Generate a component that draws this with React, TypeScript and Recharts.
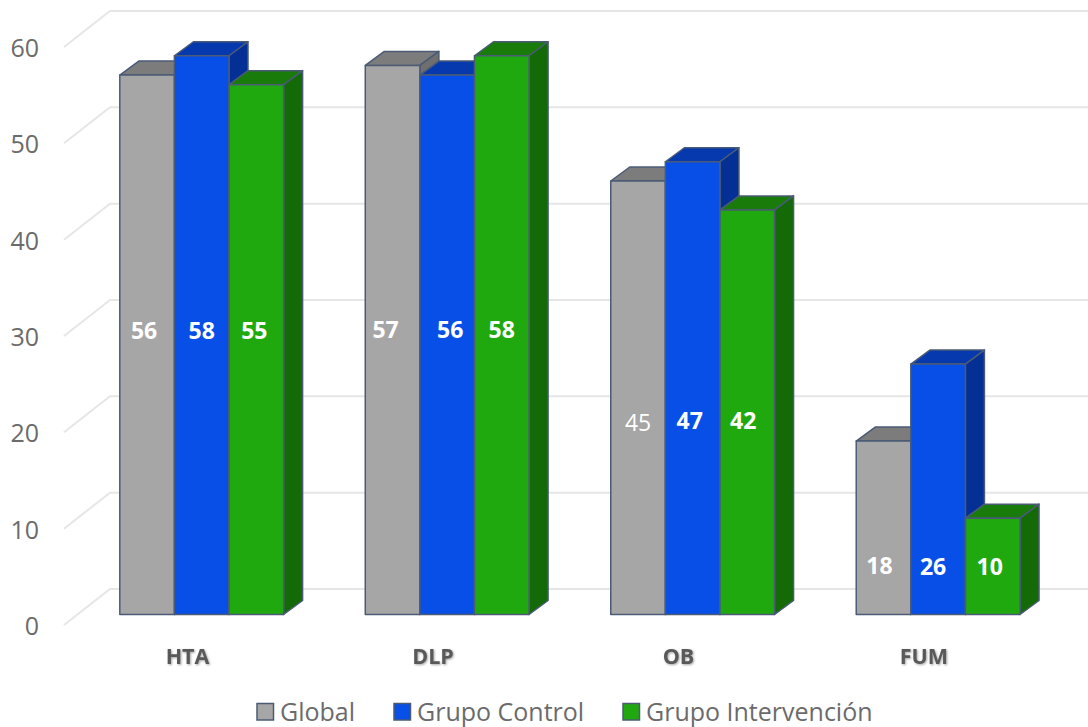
import React from 'react';
import { BarChart, Bar, XAxis, YAxis, CartesianGrid, Legend, LabelList } from 'recharts';

const categories = ['HTA', 'DLP', 'OB', 'FUM'];
const globalValues = [56, 57, 45, 18];
const controlValues = [58, 56, 47, 26];
const intervencionValues = [55, 58, 42, 10];
const yTicks = [0, 10, 20, 30, 40, 50, 60];

const chartData = categories.map((name, i) => ({
  name,
  global: globalValues[i],
  control: controlValues[i],
  intervencion: intervencionValues[i],
}));

// Face colours of each 3D column
const FACES: Record<string, { top: string; side: string }> = {
  '#a6a6a6': { top: '#7c7c7c', side: '#6f6f6f' },
  '#074fe6': { top: '#0539ad', side: '#042f94' },
  '#1fa90f': { top: '#187b0a', side: '#136a06' },
};
const EDGE = '#4b5b76';
const DEPTH_X = 19;
const DEPTH_Y = 14;

// Labels sit at one height per category, a little off the column centre
const LABEL_Y = [331, 330, 421, 567];
const LABEL_NUDGE: Record<string, number[]> = {
  global: [-3, -7, 0, -4],
  control: [0, 3, -3, -5],
  intervencion: [-2, 0, -4, -3],
};
const LABEL_LIFT: Record<string, number[]> = {
  global: [0, 0, -2, 1],
  control: [0, 0, 0, 0],
  intervencion: [0, 0, 0, 0],
};

const Column3D = (props: any) => {
  const { x, y, width, height, fill } = props;
  const faces = FACES[fill];
  const r = x + width;
  const b = y + height;
  return (
    <g stroke={EDGE} strokeWidth={1.5} strokeLinejoin="round">
      <path
        d={`M${x},${y} L${x + DEPTH_X},${y - DEPTH_Y} L${r + DEPTH_X},${y - DEPTH_Y} L${r},${y} Z`}
        fill={faces.top}
      />
      <path
        d={`M${r},${y} L${r + DEPTH_X},${y - DEPTH_Y} L${r + DEPTH_X},${b - DEPTH_Y} L${r},${b} Z`}
        fill={faces.side}
      />
      <rect x={x} y={y} width={width} height={height} fill={fill} />
    </g>
  );
};

// Floor/wall line: runs in from the front edge, then along the back wall
const WallLine = (props: any) => {
  const { y1, index } = props;
  return (
    <path
      key={index}
      d={`M64,${y1 + 10.5} L110,${y1 - 25.5} L1088,${y1 - 25.5}`}
      fill="none"
      stroke="#e6e6e6"
      strokeWidth={2}
    />
  );
};

const ValueTick = (props: any) => {
  const { y, payload } = props;
  return (
    <text x={39} y={y + 20.5} textAnchor="end" fontSize={25} fontFamily="Open Sans" fill="#6b6b6b">
      {payload.value}
    </text>
  );
};

const CategoryTick = (props: any) => {
  const { x, payload } = props;
  return (
    <text
      x={x - 14}
      y={664}
      textAnchor="middle"
      fontSize={21.5}
      fontWeight={700}
      fontFamily="Open Sans"
      fill="#595959"
      style={{ filter: 'drop-shadow(1px 1px 1px rgba(0,0,0,0.35))' }}
    >
      {payload.value}
    </text>
  );
};

const valueLabel = (series: string, thin: number[] = []) => (props: any) => {
  const { x, width, value, index } = props;
  return (
    <text
      x={x + width / 2 + LABEL_NUDGE[series][index]}
      y={LABEL_Y[index] + 8 - LABEL_LIFT[series][index]}
      textAnchor="middle"
      fontSize={23}
      fontWeight={thin.includes(index) ? 400 : 700}
      fontFamily="Open Sans"
      fill="#ffffff"
    >
      {value}
    </text>
  );
};

const LEGEND_LEFT = [257, 394, 623];

const LegendRow = ({ payload }: any) => (
  <svg width={1088} height={40} style={{ display: 'block', overflow: 'visible' }}>
    {(payload || []).map((entry: any, i: number) => (
      <g key={entry.value}>
        <rect x={LEGEND_LEFT[i]} y={4.5} width={16.5} height={16.5} fill={entry.color} stroke={EDGE} strokeWidth={1.5} />
        <text
          x={LEGEND_LEFT[i] + 23}
          y={21.5}
          fontSize={25}
          fontFamily="Open Sans"
          fill="#6b6b6b"
        >
          {entry.value}
        </text>
      </g>
    ))}
  </svg>
);

const App: React.FC = () => (
  <div style={{ position: 'absolute', left: 0, top: 0 }}>
    <BarChart
      width={1088}
      height={727}
      data={chartData}
      barSize={54.6}
      barGap={0}
      margin={{ top: 36.5, right: 27.3, bottom: 0, left: 0 }}
    >
      <CartesianGrid vertical={false} horizontal={WallLine} />
      <XAxis dataKey="name" height={112.5} axisLine={false} tickLine={false} tick={CategoryTick} interval={0} />
      <YAxis
        width={78.8}
        domain={[0, 60]}
        ticks={yTicks}
        axisLine={false}
        tickLine={false}
        tick={ValueTick}
      />
      <Legend
        content={LegendRow}
        verticalAlign="top"
        wrapperStyle={{ position: 'absolute', left: 0, top: 699, width: 1088, height: 0 }}
      />
      <Bar dataKey="global" name="Global" fill="#a6a6a6" shape={Column3D} isAnimationActive={false}>
        <LabelList dataKey="global" content={valueLabel('global', [2])} />
      </Bar>
      <Bar dataKey="control" name="Grupo Control" fill="#074fe6" shape={Column3D} isAnimationActive={false}>
        <LabelList dataKey="control" content={valueLabel('control')} />
      </Bar>
      <Bar dataKey="intervencion" name="Grupo Intervención" fill="#1fa90f" shape={Column3D} isAnimationActive={false}>
        <LabelList dataKey="intervencion" content={valueLabel('intervencion')} />
      </Bar>
    </BarChart>
  </div>
);

export default App;
